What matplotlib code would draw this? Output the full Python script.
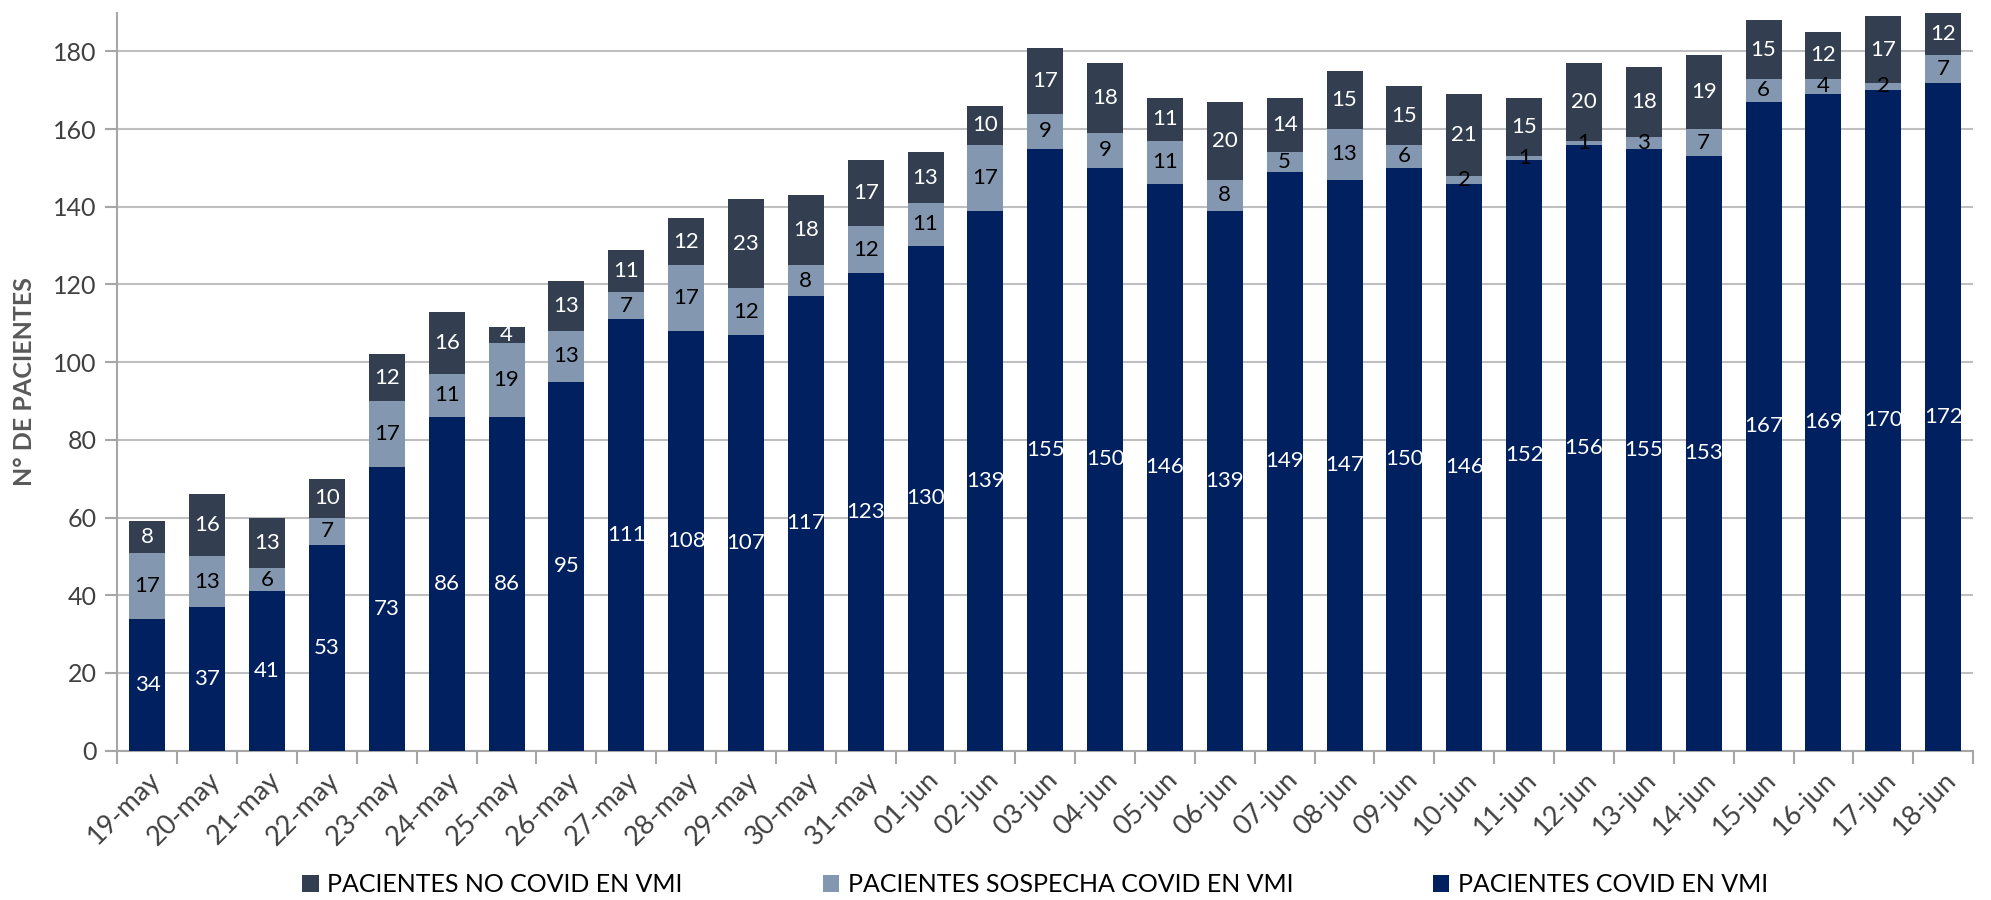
import numpy as np
import matplotlib.pyplot as plt
from matplotlib.ticker import FixedLocator

# fechas
fechas = ['19-may', '20-may', '21-may', '22-may', '23-may', '24-may', '25-may',
          '26-may', '27-may', '28-may', '29-may', '30-may', '31-may',
          '01-jun', '02-jun', '03-jun', '04-jun', '05-jun', '06-jun', '07-jun',
          '08-jun', '09-jun', '10-jun', '11-jun', '12-jun', '13-jun', '14-jun',
          '15-jun', '16-jun', '17-jun', '18-jun']

covid = [34, 37, 41, 53, 73, 86, 86, 95, 111, 108, 107, 117, 123,
         130, 139, 155, 150, 146, 139, 149, 147, 150, 146, 152, 156, 155, 153,
         167, 169, 170, 172]
sospecha = [17, 13, 6, 7, 17, 11, 19, 13, 7, 17, 12, 8, 12,
            11, 17, 9, 9, 11, 8, 5, 13, 6, 2, 1, 1, 3, 7, 6, 4, 2, 7]
no_covid = [8, 16, 13, 10, 12, 16, 4, 13, 11, 12, 23, 18, 17,
            13, 10, 17, 18, 11, 20, 14, 15, 15, 21, 15, 20, 18, 19, 15, 12, 17, 12]

c_covid = '#002060'
c_sosp = '#8497B0'
c_no = '#333F50'

plt.rcParams['font.family'] = ['Lato', 'DejaVu Sans']

fig = plt.figure(figsize=(19.91, 9.0), dpi=100)
ax = fig.add_axes([0.059, 0.166, 0.932, 0.820])

x = np.arange(len(fechas))
w = 0.6
covid = np.array(covid)
sospecha = np.array(sospecha)
no_covid = np.array(no_covid)

b1 = ax.bar(x, covid, w, color=c_covid, label='PACIENTES COVID EN VMI', zorder=3)
b2 = ax.bar(x, sospecha, w, bottom=covid, color=c_sosp,
            label='PACIENTES SOSPECHA COVID EN VMI', zorder=3)
b3 = ax.bar(x, no_covid, w, bottom=covid + sospecha, color=c_no,
            label='PACIENTES NO COVID EN VMI', zorder=3)

ax.bar_label(b1, labels=[str(v) for v in covid], label_type='center',
             color='white', fontsize=16, zorder=4)
ax.bar_label(b2, labels=[str(v) for v in sospecha], label_type='center',
             color='black', fontsize=16, zorder=4)
ax.bar_label(b3, labels=[str(v) for v in no_covid], label_type='center',
             color='white', fontsize=16, zorder=4)

ax.set_xlim(-0.5, len(fechas) - 0.5)
ax.set_ylim(0, 190)
ax.set_yticks(np.arange(0, 181, 20))
ax.yaxis.grid(True, color='#BFBFBF', linewidth=1.5, zorder=0)
ax.set_axisbelow(True)

ax.set_xticks(x)
ax.set_xticklabels(fechas, rotation=45, ha='right', rotation_mode='anchor',
                   fontsize=19.5, color='#404040')
ax.tick_params(axis='x', which='major', length=0, pad=12)
ax.xaxis.set_minor_locator(FixedLocator(np.arange(-0.5, len(fechas), 1)))
ax.tick_params(axis='x', which='minor', length=9, color='#A6A6A6', width=1.5)
ax.tick_params(axis='y', length=9, color='#A6A6A6', width=1.5,
               labelsize=18, labelcolor='#404040', pad=6)

for s in ['top', 'right']:
    ax.spines[s].set_visible(False)
for s in ['left', 'bottom']:
    ax.spines[s].set_color('#A6A6A6')
    ax.spines[s].set_linewidth(1.5)

ax.set_ylabel('N° DE PACIENTES', fontsize=18, fontweight='bold',
              color='#595959', labelpad=12)

handles = [b3, b2, b1]
fig.legend(handles, [h.get_label() for h in handles], loc='center',
           bbox_to_anchor=(0.52, 0.017), ncol=3, frameon=False, fontsize=18,
           handlelength=0.65, handleheight=0.65, handletextpad=0.35,
           columnspacing=5.6)

fig.savefig('out.png', dpi=100)
